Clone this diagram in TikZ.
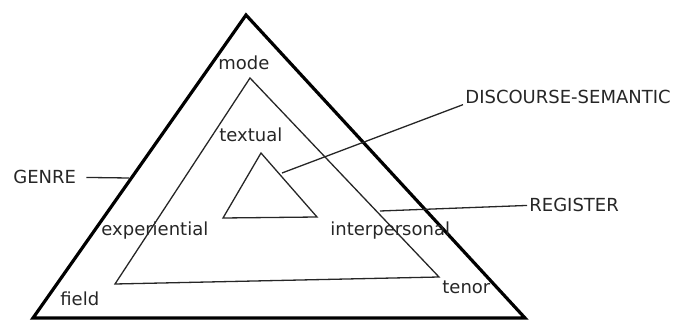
\documentclass[tikz,border=0pt]{standalone}
\usepackage{fontspec}
\setmainfont{DejaVu Sans}
\usetikzlibrary{calc}

\begin{document}
\begin{tikzpicture}[x=0.5pt,y=-0.5pt,
    lbl/.style={inner sep=0pt,anchor=base west,text=black!85,
        font=\fontsize{9}{11}\selectfont},
    thinline/.style={line width=0.65pt,draw=black!85}]

\useasboundingbox (0,0) rectangle (673,320);

% Genre
\draw[line width=1.6pt] (246,15) -- (33,318) -- (525,318) -- cycle;

% Register
\draw[thinline] (250,78) -- (115,284) -- (439,277) -- cycle;

% Discourse semantics
\draw[thinline] (261,153) -- (223,218) -- (317,217) -- cycle;

% Metafunctions and register variables
\node[lbl] (mode) at (218,70) {mode};
\node[lbl] (textual) at (219,142) {textual};
\node[lbl] (exper) at (101,235) {experiential};
\node[lbl] (interp) at (330,235) {interpersonal};
\node[lbl] (field) at (60,305) {field};
\node[lbl] (tenor) at (442,293) {tenor};

% Strata
\node[lbl] (genre) at (13,184) {GENRE};
\node[lbl] (reg) at (529,212) {REGISTER};
\node[lbl] (dsem) at (465,104) {DISCOURSE-SEMANTIC};

% Pointers
\coordinate (genrept) at (129,178);
\coordinate (regpt) at (380,211);
\coordinate (dsempt) at (282,173);
\draw[thinline] ([xshift=5pt]genre.east) -- (genrept);
\draw[thinline] ([xshift=-1pt]reg.west) -- (regpt);
\draw[thinline] ([xshift=-1pt]dsem.south west) -- (dsempt);

\end{tikzpicture}
\end{document}
